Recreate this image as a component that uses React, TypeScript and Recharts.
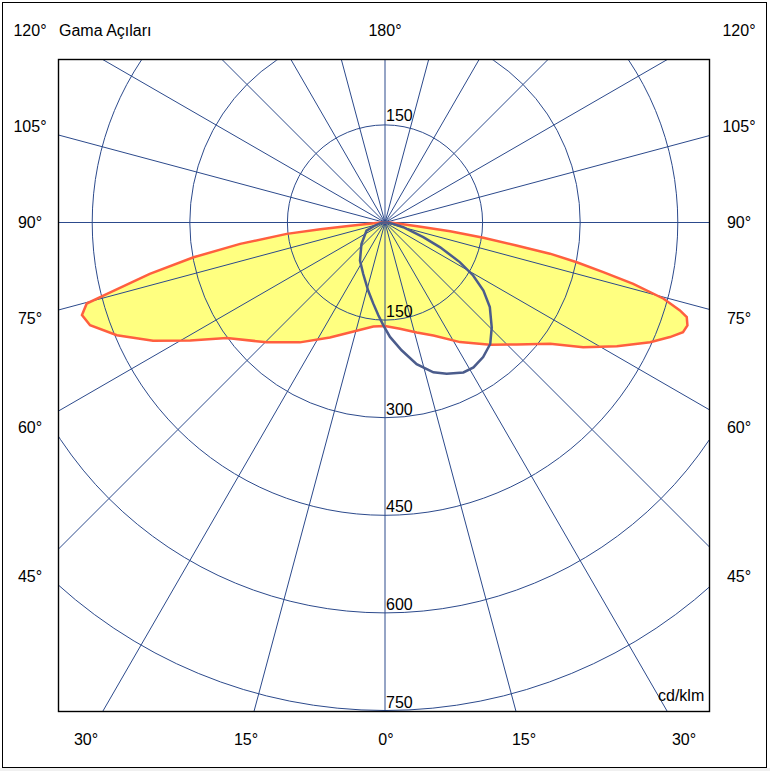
import {
  PolarAngleAxis,
  PolarGrid,
  PolarRadiusAxis,
  Radar,
  RadarChart,
} from "recharts";

const INK = "#000000";
const GRID = "#2c4a8c";
const FILL = "#ffff80";
const RED = "#ff5f3f";
const BLUE = "#4b5c8c";
const FONT = '"Liberation Sans", Arial, sans-serif';

// gamma angle in degrees, negative = left half-plane; values in cd/klm
const redGamma = [
  -180, -120, -95, -90, -87, -85, -84.4, -84, -83.4, -81.6, -79.7, -77.7,
  -75.6, -74.8, -73, -70.8, -67.2, -63, -58.8, -53.9, -44.7, -35.4, -25.6,
  -14.7, -6.4, 0, 8, 16.1, 23.2, 32.1, 40.7, 47.2, 53.7, 57.8, 61.9, 65.7,
  68.1, 69.8, 71.2, 72.6, 73.4, 74.7, 76.1, 77.2, 78.3, 79.3, 80.1, 81.2,
  82.4, 83.5, 85, 87, 90, 95, 120, 180,
];
const redValues = [
  0, 0, 2, 5, 10, 28, 60, 100, 152, 225, 299, 370, 441, 475, 487, 480, 447,
  400, 350, 301, 259, 226, 196, 172, 161, 159, 165, 176, 189, 217, 248, 276,
  315, 360, 404, 447, 472, 488, 491, 486, 473, 444, 393, 344, 301, 258, 205,
  153, 101, 50, 25, 10, 5, 2, 0, 0,
];

const blueGamma = [
  -180, -100, -90, -80, -73, -66.4, -47.6, -33.3, -22.9, -13.8, -8.2, -4.1,
  -0.9, 2.5, 7.4, 12.6, 17.9, 22.2, 27.6, 31.4, 36.1, 40.9, 45.5, 51.1, 55.3,
  59, 62.1, 65.8, 69, 75.6, 82, 90, 100, 180,
];
const blueValues = [
  0, 0, 3, 8, 16, 31, 49, 70, 86, 108, 126, 143, 158, 176, 198, 223, 242, 251,
  260, 261, 256, 247, 230, 207, 184, 158, 130, 93, 63, 29, 10, 3, 0, 0,
];

const spokes = [
  -180, -165, -150, -135, -120, -105, -90, -75, -60, -45, -30, -15, 0, 15, 30,
  45, 60, 75, 90, 105, 120, 135, 150, 165,
];
const rings = [150, 300, 450, 600, 750];

const sideLabels = ["120°", "105°", "90°", "75°", "60°", "45°"];
const sideBaselines = [36, 132, 228, 324, 433, 582];
const bottomLabels = ["30°", "15°", "0°", "15°", "30°"];
const bottomCenters = [86, 246, 386, 524, 684];

const redData = redGamma.map((gamma, i) => ({ gamma, value: redValues[i] }));
const blueData = blueGamma.map((gamma, i) => ({ gamma, value: blueValues[i] }));

const BOX_X = 58;
const BOX_Y = 59;
const BOX = 652;
const CX = 385 - BOX_X;
const CY = 222.5 - BOX_Y;
const DOMAIN_MAX = 960;
const OUTER = (DOMAIN_MAX * 488) / 750;

const chartProps = {
  width: BOX,
  height: BOX,
  cx: CX,
  cy: CY,
  innerRadius: 0,
  outerRadius: OUTER,
  startAngle: -270,
  endAngle: 90,
  margin: { top: 0, right: 0, bottom: 0, left: 0 },
};

const layer = {
  position: "absolute" as const,
  left: BOX_X,
  top: BOX_Y,
  width: BOX,
  height: BOX,
  overflow: "hidden" as const,
};

const RingLabel = ({ x, y, payload }: any) => (
  <text x={x + 1} y={y - 3} fill={INK} fontSize={16} fontFamily={FONT}>
    {payload.value}
  </text>
);

const TopRingLabel = (props: any) =>
  props.index === 0 ? <RingLabel {...props} y={props.y - 1} /> : <g />;

const AngleAxis = ({ ticks }: { ticks?: number[] }) => (
  <PolarAngleAxis
    dataKey="gamma"
    type="number"
    domain={[-180, 180]}
    ticks={ticks}
    tick={false}
    axisLine={false}
  />
);

export default function App() {
  return (
    <div
      style={{
        position: "absolute",
        left: 0,
        top: 0,
        width: 770,
        height: 771,
        background: "#ffffff",
        fontFamily: FONT,
      }}
    >
      {/* yellow fill, below the grid */}
      <div style={layer}>
        <RadarChart {...chartProps} data={redData}>
          <AngleAxis />
          <PolarRadiusAxis domain={[0, DOMAIN_MAX]} tick={false} axisLine={false} />
          <Radar
            dataKey="value"
            stroke="none"
            fill={FILL}
            fillOpacity={1}
            dot={false}
            isAnimationActive={false}
          />
        </RadarChart>
      </div>

      {/* grid and C0-C180 outline */}
      <div style={layer}>
        <RadarChart {...chartProps} data={redData}>
          <AngleAxis ticks={spokes} />
          <PolarRadiusAxis
            angle={90}
            domain={[0, DOMAIN_MAX]}
            ticks={rings}
            tick={TopRingLabel}
            axisLine={false}
            tickLine={false}
          />
          <PolarGrid gridType="circle" stroke={GRID} strokeWidth={1} />
          <Radar
            dataKey="value"
            stroke={RED}
            strokeWidth={2.5}
            fill="none"
            dot={false}
            isAnimationActive={false}
          />
        </RadarChart>
      </div>

      {/* C90-C270 outline and ring values */}
      <div style={layer}>
        <RadarChart {...chartProps} data={blueData}>
          <AngleAxis />
          <PolarRadiusAxis
            angle={-90}
            domain={[0, DOMAIN_MAX]}
            ticks={rings}
            tick={RingLabel}
            axisLine={false}
            tickLine={false}
          />
          <Radar
            dataKey="value"
            stroke={BLUE}
            strokeWidth={2.5}
            fill="none"
            dot={false}
            isAnimationActive={false}
          />
        </RadarChart>
      </div>

      <svg
        width={770}
        height={771}
        style={{ position: "absolute", left: 0, top: 0, pointerEvents: "none" }}
      >
        <rect x={0} y={768} width={770} height={3} fill="#f0f0f0" />
        <rect x={2.5} y={2.5} width={764} height={765} fill="none" stroke={INK} />
        <rect
          x={BOX_X + 0.5}
          y={BOX_Y + 0.5}
          width={BOX - 1}
          height={BOX}
          fill="none"
          stroke={INK}
          strokeWidth={1.4}
        />
        <g fontSize={16} fontFamily={FONT} fill={INK}>
          {sideLabels.map((label, i) => (
            <text key={`l${i}`} x={30} y={sideBaselines[i]} textAnchor="middle">
              {label}
            </text>
          ))}
          {sideLabels.map((label, i) => (
            <text key={`r${i}`} x={739} y={sideBaselines[i]} textAnchor="middle">
              {label}
            </text>
          ))}
          {bottomLabels.map((label, i) => (
            <text key={`b${i}`} x={bottomCenters[i]} y={745} textAnchor="middle">
              {label}
            </text>
          ))}
          <text x={59} y={36}>Gama Açıları</text>
          <text x={385} y={36} textAnchor="middle">
            180°
          </text>
          <text x={658} y={701}>cd/klm</text>
        </g>
      </svg>
    </div>
  );
}
